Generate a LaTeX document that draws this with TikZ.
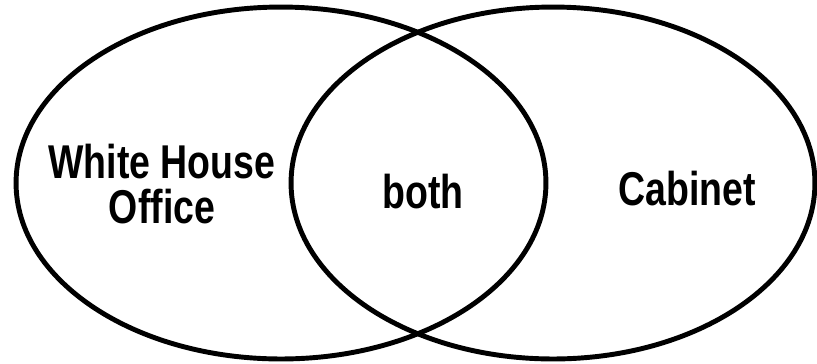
\documentclass[tikz,border=0pt]{standalone}
\usepackage{fontspec}
\newfontfamily\vennfont[FakeStretch=0.79]{Liberation Sans}
\usepackage{tikz}
\usetikzlibrary{shapes.geometric}
\tikzset{
  set-ellipse/.style={draw=black,line width=2.8pt,ellipse,inner sep=0pt,
    minimum width=10.6cm,minimum height=7.04cm},
  set-label/.style={align=center,inner sep=0pt,
    font=\vennfont\bfseries\fontsize{27}{25.6}\selectfont},
}
\begin{document}
\begin{tikzpicture}[x=0.02cm,y=-0.02cm]
  \useasboundingbox (0,0) rectangle (817,363);
  \node[set-ellipse] (wh-set)  at (281,183) {};
  \node[set-ellipse,minimum width=10.48cm] (cab-set) at (553,183) {};
  \node[set-label] (wh-label)   at (162,184) {White House\\Office};
  \node[set-label] (both-label) at (423,192) {both};
  \node[set-label] (cab-label)  at (687,189) {Cabinet};
\end{tikzpicture}
\end{document}
